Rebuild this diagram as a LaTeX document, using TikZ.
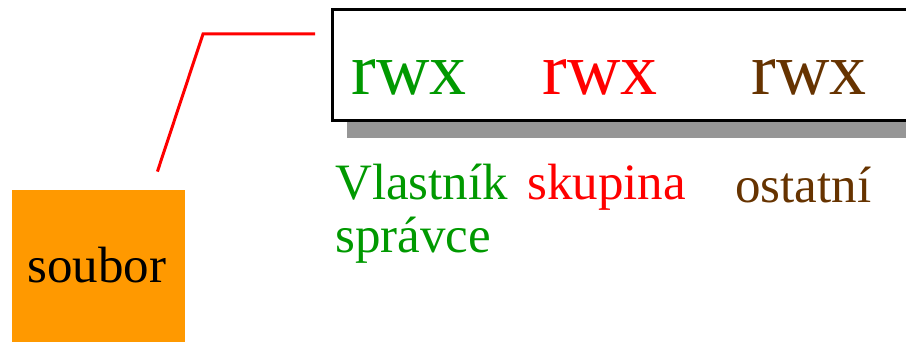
\documentclass[tikz,border=0pt]{standalone}
\usepackage{fontspec}
\setmainfont{Liberation Serif}
\definecolor{ownergreen}{RGB}{0,153,0}
\definecolor{grouped}{RGB}{255,0,0}
\definecolor{otherbrown}{RGB}{102,51,0}
\definecolor{fileorange}{RGB}{255,153,0}
\definecolor{shadowgray}{RGB}{150,150,150}
\begin{document}
\begin{tikzpicture}[x=1pt,y=1pt,
  perm/.style={inner sep=0pt,anchor=base,font=\fontsize{74}{74}\selectfont},
  who/.style={inner sep=0pt,anchor=base west,font=\fontsize{51}{53}\selectfont},
  link/.style={draw=grouped,line width=3pt}]
			\useasboundingbox (0,0) rectangle (906,342);
			\fill[shadowgray] (347,204) rectangle (940,315);
			\node (bits) at (331,220) [draw,line width=3pt,fill=white,anchor=south west,minimum width=610pt,minimum height=111pt] {};
			\node (ur) at (409,247) [perm,text=ownergreen] {rwx};
			\node (gr) at (600,247) [perm,text=grouped] {rwx};
			\node (or) at (809,247) [perm,text=otherbrown] {rwx};
			\node (owner) at (335,142) [who,text=ownergreen] {Vlastník};
			\node (admin) at (335,89) [who,text=ownergreen] {správce};
			\node (group) at (527,142) [who,text=grouped] {skupina};
			\node (others) at (735,139) [who,text=otherbrown] {ostatní};
			\node (file) at (12,-10) [fill=fileorange,anchor=south west,minimum width=173pt,minimum height=162pt] {};
			\node (name) at (97,59) [inner sep=0pt,anchor=base,font=\fontsize{51}{51}\selectfont] {soubor};
			\coordinate (tail) at ([xshift=-28pt,yshift=18pt]file.north east);
			\coordinate (bend) at (203,308);
			\draw[link] (tail) -- (bend) -- ([xshift=-16pt]bits.west|-bend);
		\end{tikzpicture}
\end{document}
